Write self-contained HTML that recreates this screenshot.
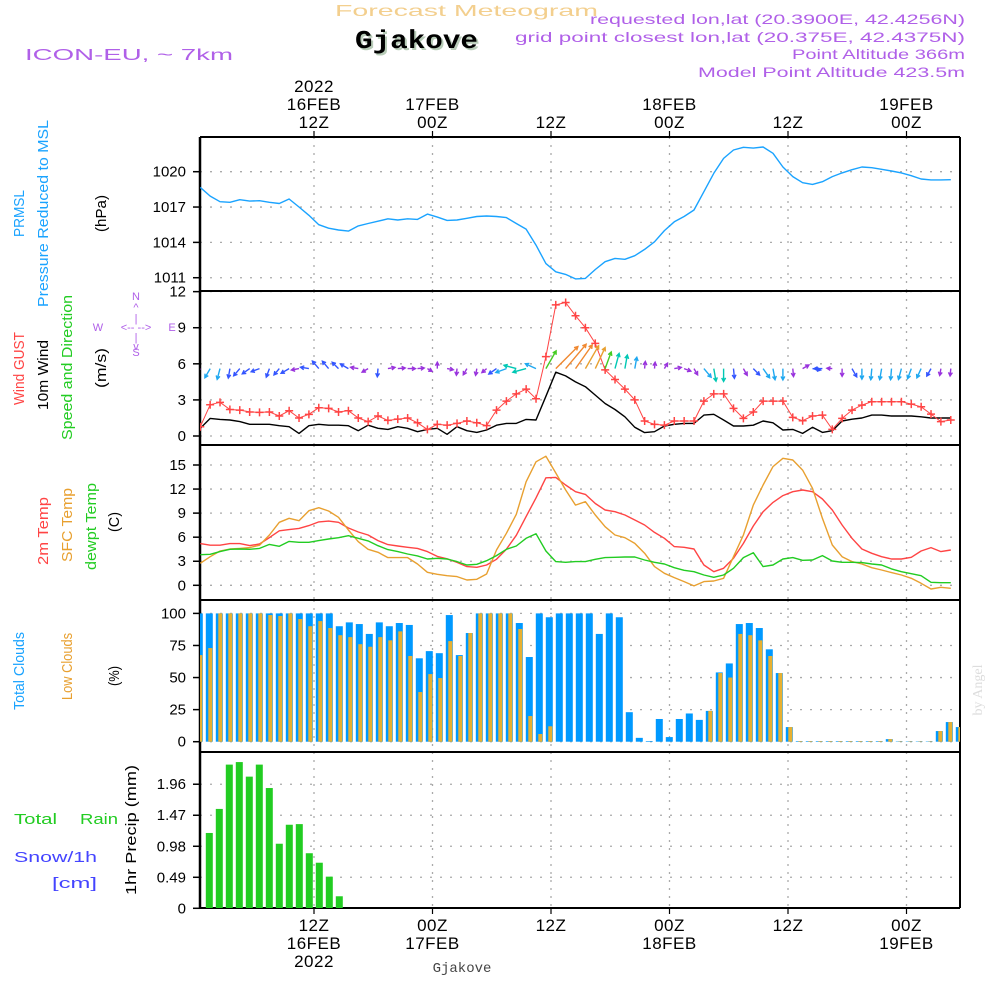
<!DOCTYPE html>
<html><head><meta charset="utf-8"><style>
html,body{margin:0;padding:0;background:#fff;}
svg{display:block;font-family:"Liberation Sans",sans-serif;}
</style></head><body>
<svg id="chart" width="1000" height="1000" viewBox="0 0 1000 1000" xmlns="http://www.w3.org/2000/svg">
<g>
<text x="335" y="16" font-size="16" fill="#f3cf8e" textLength="263" lengthAdjust="spacingAndGlyphs">Forecast Meteogram</text>
<text x="357" y="50" font-size="26" font-weight="bold" font-family="Liberation Mono, monospace" fill="#b8ccb8" textLength="123" lengthAdjust="spacingAndGlyphs">Gjakove</text>
<text x="355" y="48" font-size="26" font-weight="bold" font-family="Liberation Mono, monospace" fill="#000" textLength="123" lengthAdjust="spacingAndGlyphs">Gjakove</text>
<text x="25" y="60" font-size="16" fill="#b060e8" textLength="208" lengthAdjust="spacingAndGlyphs">ICON-EU, ~ 7km</text>
<text x="590" y="24" font-size="14" fill="#b060e8" textLength="375" lengthAdjust="spacingAndGlyphs">requested lon,lat (20.3900E, 42.4256N)</text>
<text x="515" y="42" font-size="14" fill="#b060e8" textLength="450" lengthAdjust="spacingAndGlyphs">grid point closest lon,lat (20.375E, 42.4375N)</text>
<text x="792" y="59" font-size="14" fill="#b060e8" textLength="173" lengthAdjust="spacingAndGlyphs">Point Altitude 366m</text>
<text x="698" y="77" font-size="14" fill="#b060e8" textLength="267" lengthAdjust="spacingAndGlyphs">Model Point Altitude 423.5m</text>
<text x="462" y="972" text-anchor="middle" font-size="14" font-family="Liberation Mono, monospace" fill="#444">Gjakove</text>
<text transform="translate(982,690) rotate(-90)" text-anchor="middle" font-size="14" font-family="Liberation Serif, serif" fill="#ddd">by Angel</text>
</g>
<g font-size="15">
<text transform="translate(24,237) rotate(-90)" fill="#1aa3ff" textLength="47" lengthAdjust="spacingAndGlyphs">PRMSL</text>
<text transform="translate(48,307) rotate(-90)" fill="#1aa3ff" textLength="187" lengthAdjust="spacingAndGlyphs">Pressure Reduced to MSL</text>
<text transform="translate(106,232) rotate(-90)" fill="#000" textLength="37" lengthAdjust="spacingAndGlyphs">(hPa)</text>
<text transform="translate(24,405) rotate(-90)" fill="#ff4444" textLength="73" lengthAdjust="spacingAndGlyphs">Wind GUST</text>
<text transform="translate(48,410) rotate(-90)" fill="#000" textLength="70" lengthAdjust="spacingAndGlyphs">10m Wind</text>
<text transform="translate(72,440) rotate(-90)" fill="#22cc22" textLength="145" lengthAdjust="spacingAndGlyphs">Speed and Direction</text>
<text transform="translate(106,388) rotate(-90)" fill="#000" textLength="40" lengthAdjust="spacingAndGlyphs">(m/s)</text>
<g font-size="11" fill="#b060e8" text-anchor="middle">
<text x="136" y="300">N</text><text x="136" y="311">^</text><text x="136" y="322">|</text>
<text x="98" y="331">W</text><text x="136" y="331">&lt;-- --&gt;</text><text x="172" y="331">E</text>
<text x="136" y="341">|</text><text x="136" y="350">v</text><text x="136" y="356">S</text>
</g>
<text transform="translate(48,565) rotate(-90)" fill="#ff4444" textLength="68" lengthAdjust="spacingAndGlyphs">2m Temp</text>
<text transform="translate(72,562) rotate(-90)" fill="#e8a030" textLength="74" lengthAdjust="spacingAndGlyphs">SFC Temp</text>
<text transform="translate(96,570) rotate(-90)" fill="#22cc22" textLength="87" lengthAdjust="spacingAndGlyphs">dewpt Temp</text>
<text transform="translate(119,532) rotate(-90)" fill="#000" textLength="20" lengthAdjust="spacingAndGlyphs">(C)</text>
<text transform="translate(24,710) rotate(-90)" fill="#1aa3ff" textLength="78" lengthAdjust="spacingAndGlyphs">Total Clouds</text>
<text transform="translate(72,700) rotate(-90)" fill="#e8a030" textLength="67" lengthAdjust="spacingAndGlyphs">Low Clouds</text>
<text transform="translate(119,686) rotate(-90)" fill="#000" textLength="20" lengthAdjust="spacingAndGlyphs">(%)</text>
<text x="14" y="824" fill="#22cc22" textLength="43" lengthAdjust="spacingAndGlyphs">Total</text>
<text x="80" y="824" fill="#22cc22" textLength="38" lengthAdjust="spacingAndGlyphs">Rain</text>
<text x="14" y="862" fill="#4444ff" textLength="83" lengthAdjust="spacingAndGlyphs">Snow/1h</text>
<text x="52" y="888" fill="#4444ff" textLength="45" lengthAdjust="spacingAndGlyphs">[cm]</text>
<text transform="translate(136,895) rotate(-90)" fill="#000" textLength="130" lengthAdjust="spacingAndGlyphs">1hr Precip (mm)</text>
</g>
<g id="plot"></g>
</svg>
<script>
// ---- data (hourly, j=0 at 01Z 16FEB) ----
const pressure=[1018.67,1017.93,1017.45,1017.4,1017.62,1017.5,1017.54,1017.4,1017.3,1017.68,1017.0,1016.3,1015.5,1015.2,1015.05,1014.96,1015.4,1015.6,1015.8,1016.0,1015.9,1016.0,1015.95,1016.4,1016.15,1015.87,1015.9,1016.04,1016.2,1016.24,1016.2,1016.1,1015.6,1015.13,1013.77,1012.2,1011.5,1011.28,1010.9,1010.94,1011.7,1012.36,1012.64,1012.56,1012.87,1013.4,1014.05,1015.0,1015.75,1016.2,1016.75,1018.3,1019.86,1021.13,1021.84,1022.07,1022.0,1022.1,1021.56,1020.4,1019.58,1019.07,1018.92,1019.15,1019.58,1019.9,1020.17,1020.4,1020.34,1020.2,1020.06,1019.9,1019.66,1019.38,1019.3,1019.3,1019.32];
const gust=[0.77,2.6,2.8,2.2,2.15,2.0,1.96,2.0,1.66,2.1,1.5,1.8,2.35,2.3,2.0,2.1,1.5,1.2,1.66,1.3,1.4,1.5,1.1,0.55,0.97,0.9,1.05,1.25,1.1,0.86,2.15,2.9,3.5,3.9,3.1,6.6,10.9,11.1,10.0,9.0,7.7,5.5,4.7,3.9,3.0,1.25,0.97,0.9,1.25,1.25,1.25,2.9,3.5,3.5,2.3,1.46,2.0,2.9,2.9,2.9,1.55,1.27,1.66,1.74,0.55,1.46,2.15,2.57,2.85,2.85,2.85,2.85,2.65,2.43,1.82,1.2,1.33];
const wind=[0.64,1.46,1.38,1.33,1.2,0.97,0.97,0.97,0.86,0.77,0.22,0.86,0.97,0.9,0.9,0.86,0.44,0.9,0.64,0.55,0.77,0.64,0.36,0.55,0.64,0.14,0.77,0.44,0.3,0.5,0.9,1.05,1.05,1.38,1.33,3.3,5.3,5.0,4.5,4.1,3.4,2.7,2.2,1.6,0.72,0.28,0.36,0.83,0.97,1.05,1.05,1.74,1.8,1.33,0.83,0.83,0.9,1.25,1.1,0.5,0.55,0.22,0.72,0.3,0.44,1.25,1.4,1.5,1.74,1.74,1.66,1.66,1.66,1.6,1.5,1.5,1.5];
const windDir=[225,240,255,260,230,215,200,250,230,210,190,170,130,130,135,150,170,210,265,10,5,0,5,330,90,350,265,240,260,220,215,200,165,195,155,60,45,50,55,60,65,70,75,80,80,85,85,60,10,340,300,310,280,270,275,300,315,305,280,270,275,30,350,180,175,270,300,270,265,260,265,255,250,245,240,260,265];
const temp2m=[5.2,5.0,5.0,5.2,5.2,4.95,5.15,5.95,6.8,6.95,7.1,7.45,7.9,8.0,7.85,7.15,6.65,6.27,5.57,5.07,4.9,4.74,4.6,4.2,3.6,3.3,2.87,2.33,2.25,2.53,3.24,4.5,6.23,8.56,10.9,13.4,13.46,12.5,11.67,11.34,10.2,9.39,9.18,8.77,8.14,7.52,6.6,5.86,4.82,4.74,4.53,2.53,1.7,2.12,3.37,5.23,7.4,9.18,10.34,11.18,11.67,11.88,11.67,10.76,9.39,7.52,5.86,4.53,3.99,3.57,3.28,3.28,3.49,4.28,4.7,4.2,4.4];
const sfcTemp=[2.74,3.57,4.28,4.53,4.6,4.7,5.0,6.27,7.85,8.35,8.06,9.3,9.68,9.26,8.48,6.9,5.44,4.49,4.11,3.45,3.45,3.45,2.66,1.62,1.37,1.2,1.08,0.66,0.75,1.41,4.4,6.48,8.85,12.9,15.4,16.1,14.0,11.9,10.0,10.43,8.77,7.31,6.27,5.94,5.23,4.0,2.33,1.5,0.96,0.46,-0.08,0.46,0.54,0.87,3.57,6.27,10.0,12.5,14.8,15.83,15.62,14.37,12.09,8.35,5.03,3.57,2.95,2.66,2.2,1.91,1.58,1.29,0.87,0.25,-0.46,-0.25,-0.37];
const dewpt=[3.82,3.86,4.2,4.49,4.53,4.49,4.6,5.1,4.86,5.48,5.36,5.36,5.57,5.77,5.94,6.19,5.86,5.53,4.94,4.45,4.2,3.9,3.66,3.28,3.37,3.28,2.95,2.53,2.62,3.07,3.7,4.49,4.9,5.86,6.44,4.28,2.95,2.87,2.95,2.95,3.24,3.45,3.49,3.53,3.53,3.16,2.87,2.66,2.2,1.87,1.7,1.29,1.0,1.29,2.12,3.45,4.07,2.33,2.53,3.28,3.45,3.12,3.16,3.7,3.03,2.87,2.87,2.83,2.66,2.53,2.04,1.7,1.45,1.2,0.37,0.33,0.33];
// bars (i=0 at left edge)
const totalCloud=[100,100,100,100,100,100,100,100,100,100,100,100,100,100,90,93,91.7,84,93,90,92.5,91,65,70.6,69,98.7,67.5,84.7,100,100,100,100,92.5,66,100,97,100,100,100,100,84,100,97,23,3,0.5,17.7,3.6,17.7,22,17,24,54,61,91.7,92.5,88.6,72,53.5,11.4,0.5,0.5,0.5,0.5,0.5,0.5,0.5,0.5,0.5,2,0.3,0.3,0.3,0.3,8.3,15.3,11.4];
const lowCloud=[67.5,73,100,100,100,100,100,98.7,98,100,95.6,90,94,88.6,83,81.5,76,74,81.5,79,86,66.8,38.7,52.7,49.6,78.4,66.8,84.7,100,100,100,100,87.8,20,6,12,0,0,0,0,0,0,0,0,0,0,0,0,0,0,0,24,53.5,50,84,83,79,66.8,53.5,11.4,0.5,0.5,0.5,0.5,0.5,0.5,0.5,0.5,0.5,2,0.3,0.3,0.3,0.3,8.3,15.3,11.4];
const precip=[0,1.19,1.57,2.27,2.31,2.08,2.27,1.90,1.02,1.32,1.33,0.87,0.72,0.50,0.19];
// ticks
const timeTickHours=[12,24,36,48,60,72];
const topTickLabels=[["2022","16FEB","12Z"],["17FEB","00Z"],["12Z"],["18FEB","00Z"],["12Z"],["19FEB","00Z"]];
const bottomTickLabels=[["12Z","16FEB","2022"],["00Z","17FEB"],["12Z"],["00Z","18FEB"],["12Z"],["00Z","19FEB"]];
const pTicks=[1011,1014,1017,1020];
const wTicks=[0,3,6,9,12];
const tTicks=[0,3,6,9,12,15];
const cTicks=[0,25,50,75,100];
const rTicks=[0,0.49,0.98,1.47,1.96];

const NS='http://www.w3.org/2000/svg';
const plot=document.getElementById('plot');
function mk(tag,attrs,parent){const e=document.createElementNS(NS,tag);for(const k in attrs)e.setAttribute(k,attrs[k]);(parent||plot).appendChild(e);return e;}
const X0=200,X1=960;
const xHour=h=>314+(h-12)*9.875;
const xt=j=>xHour(j+1)-5.1;
const xb=i=>199.3+10*i;
const panels=[
 {name:'pressure',top:137,bot:291,y:v=>171.7+(1020-v)*11.78,ticks:pTicks,fmt:v=>String(v)},
 {name:'wind',top:291,bot:445,y:v=>436-v*12.03,ticks:wTicks,fmt:v=>String(v)},
 {name:'temperature',top:445,bot:600,y:v=>585.3-v*8.02,ticks:tTicks,fmt:v=>String(v)},
 {name:'clouds',top:600,bot:752,y:v=>741.7-v*1.283,ticks:cTicks,fmt:v=>String(v)},
 {name:'precip',top:752,bot:908,y:v=>908.3-v*63.3,ticks:rTicks,fmt:v=>v===0?'0':v.toFixed(2)}
];
const defs=mk('defs',{});
const cp=mk('clipPath',{id:'clipPlot'},defs);mk('rect',{x:X0,y:137,width:X1-X0,height:771},cp);

panels.forEach(p=>{
  const g=mk('g',{});
  
  
  timeTickHours.forEach(h=>{const l=mk('line',{x1:xHour(h),x2:xHour(h),y1:p.top,y2:p.bot,stroke:'#aaa','stroke-width':1.3,'stroke-dasharray':'2,6'},g);
    });
  p.ticks.forEach(v=>{const y=p.y(v);
    const l=mk('line',{x1:X0,x2:X1,y1:y,y2:y,stroke:'#aaa','stroke-width':1.3,'stroke-dasharray':'2,8'},g);
    
    const tk=mk('line',{x1:193,x2:200,y1:y,y2:y,stroke:'#000','stroke-width':1.5},g);
    
    const t=mk('text',{x:186,y:y+5,'text-anchor':'end','font-size':15,fill:'#000'},g);
    
    t.textContent=p.fmt(v);});
});
[137,291,445,600,752,908].forEach(y=>{const l=mk('line',{x1:X0,x2:X1,y1:y,y2:y,stroke:'#000','stroke-width':2});
  });
const la=mk('line',{x1:X0,x2:X0,y1:137,y2:908,stroke:'#000','stroke-width':2.5});

const ra=mk('line',{x1:X1,x2:X1,y1:137,y2:908,stroke:'#000','stroke-width':2});

timeTickHours.forEach((h,k)=>{const x=xHour(h);
  const t1=mk('line',{x1:x,x2:x,y1:131,y2:137,stroke:'#000','stroke-width':1.2});
  
  const t2=mk('line',{x1:x,x2:x,y1:908,y2:914,stroke:'#000','stroke-width':1.2});
  
  const top=topTickLabels[k];
  top.forEach((s,r)=>{const t=mk('text',{x:x,y:128-(top.length-1-r)*18,'text-anchor':'middle','font-size':17,fill:'#000','letter-spacing':'0.5'});
    t.textContent=s;});
  bottomTickLabels[k].forEach((s,r)=>{const t=mk('text',{x:x,y:931+r*18,'text-anchor':'middle','font-size':17,fill:'#000','letter-spacing':'0.5'});
    t.textContent=s;});
});

const clipG=mk('g',{'clip-path':'url(#clipPlot)'});

function line(arr,yf,color,name,w){const pts=arr.map((v,j)=>xt(j).toFixed(1)+','+yf(v).toFixed(1)).join(' ');
  const l=mk('polyline',{points:pts,fill:'none',stroke:color,'stroke-width':w||1.4,'stroke-linejoin':'round'},clipG);
  return l;}
const [P,W,T,C,R]=panels;
totalCloud.forEach((v,i)=>{const y=C.y(v);
  const b=mk('rect',{x:xb(i)-3.5,y:y,width:7,height:C.y(0)-y,fill:'#0099ff'},clipG);
  });
lowCloud.forEach((v,i)=>{const y=C.y(v);
  const b=mk('rect',{x:xb(i)-1,y:y,width:4,height:C.y(0)-y,fill:'#e8b030'},clipG);
  });
precip.forEach((v,i)=>{const y=R.y(v);
  const b=mk('rect',{x:xb(i)-3.5,y:y,width:7,height:R.y(0)-y,fill:'#22cc22'},clipG);
  });
line(pressure,P.y,'#1aa3ff','pressure-line');
line(wind,W.y,'#000','wind-speed-line');
line(gust,W.y,'#ff4444','gust-line',1);
gust.forEach((v,j)=>{const x=xt(j),y=W.y(v);
  const m=mk('path',{d:`M${x-4},${y}H${x+4}M${x},${y-4}V${y+4}`,stroke:'#ff4444','stroke-width':1.5},clipG);
  });
function arrowColor(g){if(g<1.6)return'#9933dd';if(g<2.4)return'#3355ff';if(g<3.3)return'#1fa8f0';if(g<5)return'#00c8b4';if(g<7)return'#44cc22';if(g<9.5)return'#e8a030';return'#f08830';}
windDir.forEach((d,j)=>{const x=xt(j),y=W.y(5.6);const len=4+2.5*gust[j];const a=d*Math.PI/180;
  const ex=x+len*Math.cos(a),ey=y-len*Math.sin(a);
  const h=4,b1=a+Math.PI-0.5,b2=a+Math.PI+0.5;
  const pth=`M${x.toFixed(1)},${y.toFixed(1)}L${ex.toFixed(1)},${ey.toFixed(1)}M${(ex+h*Math.cos(b1)).toFixed(1)},${(ey-h*Math.sin(b1)).toFixed(1)}L${ex.toFixed(1)},${ey.toFixed(1)}L${(ex+h*Math.cos(b2)).toFixed(1)},${(ey-h*Math.sin(b2)).toFixed(1)}`;
  const ar=mk('path',{d:pth,stroke:arrowColor(gust[j]),'stroke-width':1.4,fill:'none'},clipG);
  });
line(temp2m,T.y,'#ff4444','temp-2m-line');
line(sfcTemp,T.y,'#e8a030','sfc-temp-line');
line(dewpt,T.y,'#22cc22','dewpoint-line');
</script>
</body></html>
